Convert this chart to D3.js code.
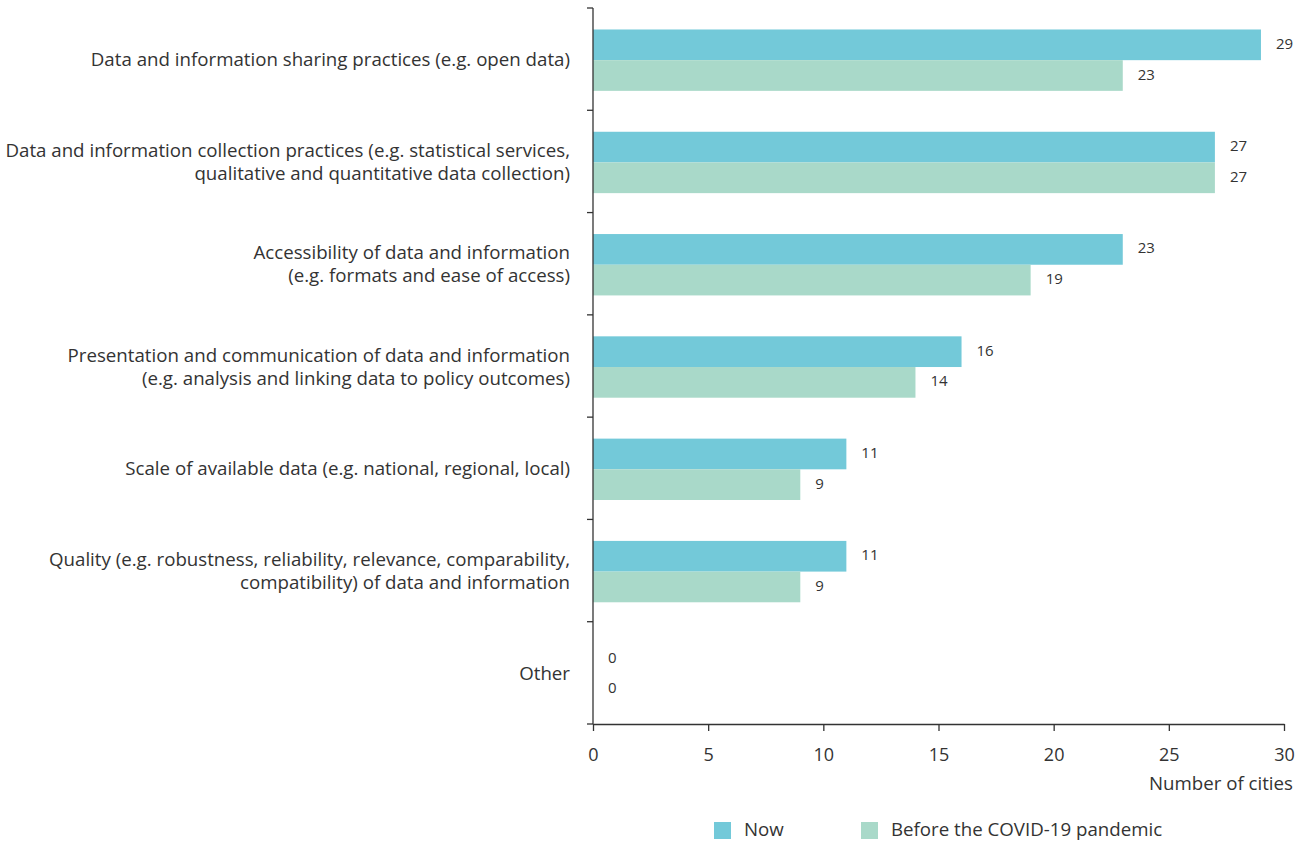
<!DOCTYPE html>
<html><head><meta charset="utf-8">
<script src="https://cdn.jsdelivr.net/npm/d3@7"></script>
<style>body{margin:0;background:#fff}svg{display:block}text{font-family:"Open Sans",sans-serif;fill:#333}</style>
</head><body><svg id="c" width="1305" height="844"></svg>
<script>
const categories = [
  ["Data and information sharing practices (e.g. open data)"],
  ["Data and information collection practices (e.g. statistical services,", "qualitative and quantitative data collection)"],
  ["Accessibility of data and information", "(e.g. formats and ease of access)"],
  ["Presentation and communication of data and information", "(e.g. analysis and linking data to policy outcomes)"],
  ["Scale of available data (e.g. national, regional, local)"],
  ["Quality (e.g. robustness, reliability, relevance, comparability,", "compatibility) of data and information"],
  ["Other"]
];
const seriesNames = ["Now", "Before the COVID-19 pandemic"];
const nowValues = [29, 27, 23, 16, 11, 11, 0];
const beforeValues = [23, 27, 19, 14, 9, 9, 0];
const xTicks = [0, 5, 10, 15, 20, 25, 30];
const colors = ["#73c9d9", "#a9d9c9"];
const xTitle = "Number of cities";

const svg = d3.select("#c");
const L = 593, R = 1284, T = 8, B = 724;
const x = d3.scaleLinear().domain([0, 30]).range([L, R]);
const ids = categories.map((d, i) => i);
const y = d3.scaleBand().domain(ids).range([T, B]).padding(0);
const bw = y.bandwidth();
const y1 = d3.scaleBand().domain([0, 1]).range([0.21 * bw, 0.81 * bw]).padding(0);
const series = [nowValues, beforeValues];

// bars
series.forEach((vals, s) => {
  svg.append("g").selectAll("rect").data(vals).join("rect")
    .attr("x", x(0)).attr("y", (d, i) => y(i) + y1(s))
    .attr("width", d => x(d) - x(0)).attr("height", y1.bandwidth())
    .attr("fill", colors[s]);
  svg.append("g").selectAll("text").data(vals).join("text")
    .attr("x", d => x(d) + 15).attr("y", (d, i) => y(i) + y1(s) + y1.bandwidth() / 2)
    .attr("dominant-baseline", "middle").attr("font-size", 15).text(d => d);
});

// y axis
const ya = svg.append("g");
ya.append("line").attr("x1", L).attr("x2", L).attr("y1", T).attr("y2", B).attr("stroke", "#333").attr("stroke-width", 1.3);
const bounds = ids.map(i => y(i)).concat([B]);
ya.selectAll("line.t").data(bounds).join("line").attr("class", "t")
  .attr("x1", L - 6).attr("x2", L).attr("y1", d => d).attr("y2", d => d).attr("stroke", "#333").attr("stroke-width", 1.3);
ya.selectAll("text").data(categories).join("text")
  .attr("text-anchor", "end").attr("font-size", 18.7)
  .each(function (lines, i) {
    const t = d3.select(this);
    const cy = y(i) + bw / 2 + 2;
    const lh = 23;
    lines.forEach((ln, k) => {
      t.append("tspan").attr("x", 570)
        .attr("y", cy + (k - (lines.length - 1) / 2) * lh)
        .attr("dominant-baseline", "middle").text(ln);
    });
  });

// x axis
const xa = svg.append("g").attr("transform", `translate(0,${B})`)
  .call(d3.axisBottom(x).tickValues(xTicks).tickSize(7).tickSizeOuter(0).tickPadding(17));
xa.select(".domain").attr("stroke", "#333").attr("stroke-width", 1.3);
xa.selectAll(".tick line").attr("stroke", "#333").attr("stroke-width", 1.3);
xa.selectAll(".tick text").attr("font-size", 18).attr("font-family", "Open Sans").attr("fill", "#333");
svg.append("text").attr("x", 1293).attr("y", 785).attr("text-anchor", "end")
  .attr("dominant-baseline", "middle").attr("font-size", 18.7).text(xTitle);

// legend
const lg = svg.append("g");
const lx = [714, 861];
seriesNames.forEach((n, s) => {
  lg.append("rect").attr("x", lx[s]).attr("y", 822).attr("width", 17).attr("height", 17).attr("fill", colors[s]);
  lg.append("text").attr("x", lx[s] + 30).attr("y", 831).attr("dominant-baseline", "middle").attr("font-size", 18.7).text(n);
});
</script></body></html>
